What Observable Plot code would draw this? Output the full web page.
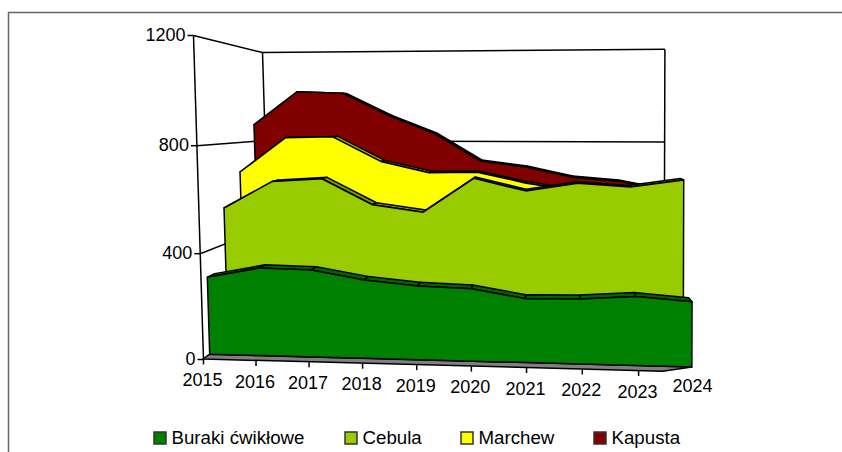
<!DOCTYPE html>
<html>
<head>
<meta charset="utf-8">
<script src="https://cdn.jsdelivr.net/npm/d3@7"></script>
<script src="https://cdn.jsdelivr.net/npm/@observablehq/plot@0.6"></script>
<style>html,body{margin:0;padding:0;background:#fff;overflow:hidden}svg{display:block}</style>
</head>
<body>
<div id="chart"></div>
<script>
const years = [2015,2016,2017,2018,2019,2020,2021,2022,2023,2024];
const burakiValues = [298,336,332,298,279,272,239,242,255,240];
const cebulaValues = [542,650,662,561,534,668,621,652,639,668];
const marchewValues = [674,819,823,722,677,680,637,608,602,613];
const kapustaValues = [871,1016,1009,913,836,717,691,649,633,595];
const seriesNames = ["Buraki ćwikłowe","Cebula","Marchew","Kapusta"];
const yTicks = [0,400,800,1200];

const seriesValues = [burakiValues,cebulaValues,marchewValues,kapustaValues];
const seriesColors = ["#008000","#99cc00","#ffff00","#800000"];
const lipColors = ["#006400","#7a9e00","#b8b800","#5a0000"];
const faceDepth = [0.02,0.075,0.125,0.17];
const lipDepth = 0.022, backDepth = 0.2;
const legendX = [154,345,461,594];
const font = "Liberation Sans, Arial, sans-serif";

// Perspective projection of (category index, value, depth) onto the picture plane
const vanish = [538,120];
const persp = (f,r) => f*r/((1-f)+f*r);
function project(u,v,t){
  const su = persp(u/9,0.956), sv = persp(v/1200,0.97);
  const bx = 203+(695-203)*su, by = 359+(372-359)*su;
  const tx = 193+(696-193)*su, ty = 35+(31-35)*su;
  const fx = bx+(tx-bx)*sv, fy = by+(ty-by)*sv;
  return [fx*(1-t)+vanish[0]*t, fy*(1-t)+vanish[1]*t];
}
const px = p => project(...p)[0], py = p => project(...p)[1];

const link = (rows,opts={}) => Plot.link(rows,{
  x1:d=>px(d[0]),y1:d=>py(d[0]),x2:d=>px(d[1]),y2:d=>py(d[1]),
  stroke:"#000",strokeWidth:1.5,...opts});
const band = (rows,opts) => Plot.area(rows,{
  x1:d=>px(d[0]),y1:d=>py(d[0]),x2:d=>px(d[1]),y2:d=>py(d[1]),
  stroke:"#000",strokeWidth:1.5,strokeLinejoin:"round",...opts});

// walls and gridlines
const wall = [
  [[0,0,0],[0,1200,0]],
  [[0,0,backDepth],[0,1200,backDepth]],
  [[9,0,backDepth],[9,1200,backDepth]]
];
for (const v of yTicks.slice(1)) {
  wall.push([[0,v,0],[0,v,backDepth]]);
  wall.push([[0,v,backDepth],[9,v,backDepth]]);
}

const marks = [
  Plot.ruleY([12],{x1:8,x2:842,stroke:"#666",strokeWidth:1.5}),
  Plot.ruleX([8],{y1:12,y2:452,stroke:"#666",strokeWidth:1.5}),
  link(wall),
  // floor
  band([[[0,0,0],[0,0,faceDepth[0]]],[[8.43,0,0],[9,0,faceDepth[0]]]],{fill:"#808080"})
];

// series, back to front
for (const i of [3,2,1,0]) {
  const vals = seriesValues[i], t = faceDepth[i];
  const lips = [];
  for (let u=0;u<9;u++){
    lips.push({k:u,p:[[u,vals[u],t],[u,vals[u],t+lipDepth]]});
    lips.push({k:u,p:[[u+1,vals[u+1],t],[u+1,vals[u+1],t+lipDepth]]});
  }
  marks.push(Plot.area(lips,{
    x1:d=>px(d.p[0]),y1:d=>py(d.p[0]),x2:d=>px(d.p[1]),y2:d=>py(d.p[1]),z:"k",
    fill:lipColors[i],stroke:"#000",strokeWidth:1.5,strokeLinejoin:"round"}));
  marks.push(band(vals.map((v,u)=>[[u,v,t],[u,0,t]]),{fill:seriesColors[i]}));
}

// axes
const yTickX = v => px([0,v,0]);
marks.push(
  Plot.link(yTicks,{x1:v=>yTickX(v)-6,x2:v=>yTickX(v),y1:v=>py([0,v,0]),y2:v=>py([0,v,0]),stroke:"#000",strokeWidth:1.5}),
  Plot.text(yTicks,{x:v=>yTickX(v)-8,y:v=>py([0,v,0]),text:v=>String(v),textAnchor:"end",lineAnchor:"middle",fontSize:18,fontFamily:font,fill:"#000"}),
  Plot.link(years.slice(0,-1),{x1:(d,i)=>px([i,0,0]),x2:(d,i)=>px([i,0,0]),y1:(d,i)=>py([i,0,0]),y2:(d,i)=>py([i,0,0])+5,stroke:"#000",strokeWidth:1.5}),
  Plot.text(years,{x:(d,i)=>px([i,0,0])-(i===9?3:1),y:(d,i)=>py([i,0,0])+(i===9?14:21),text:d=>String(d),textAnchor:"middle",lineAnchor:"middle",fontSize:18,fontFamily:font,fill:"#000"})
);

// legend
marks.push(
  Plot.rect(seriesNames,{x1:(d,i)=>legendX[i],x2:(d,i)=>legendX[i]+12,y1:432,y2:444,fill:(d,i)=>seriesColors[i],stroke:"#333",strokeWidth:1.5}),
  Plot.text(seriesNames,{x:(d,i)=>legendX[i]+17,y:438,text:d=>d,textAnchor:"start",lineAnchor:"middle",fontSize:18.7,fontFamily:font,fill:"#000"})
);

const chart = Plot.plot({
  width:842,height:452,margin:0,
  x:{type:"linear",domain:[0,842],range:[0,842],axis:null},
  y:{type:"linear",domain:[0,452],range:[0,452],axis:null},
  style:{background:"#fff",fontFamily:font},
  marks
});
document.getElementById("chart").appendChild(chart);
</script>
</body>
</html>
